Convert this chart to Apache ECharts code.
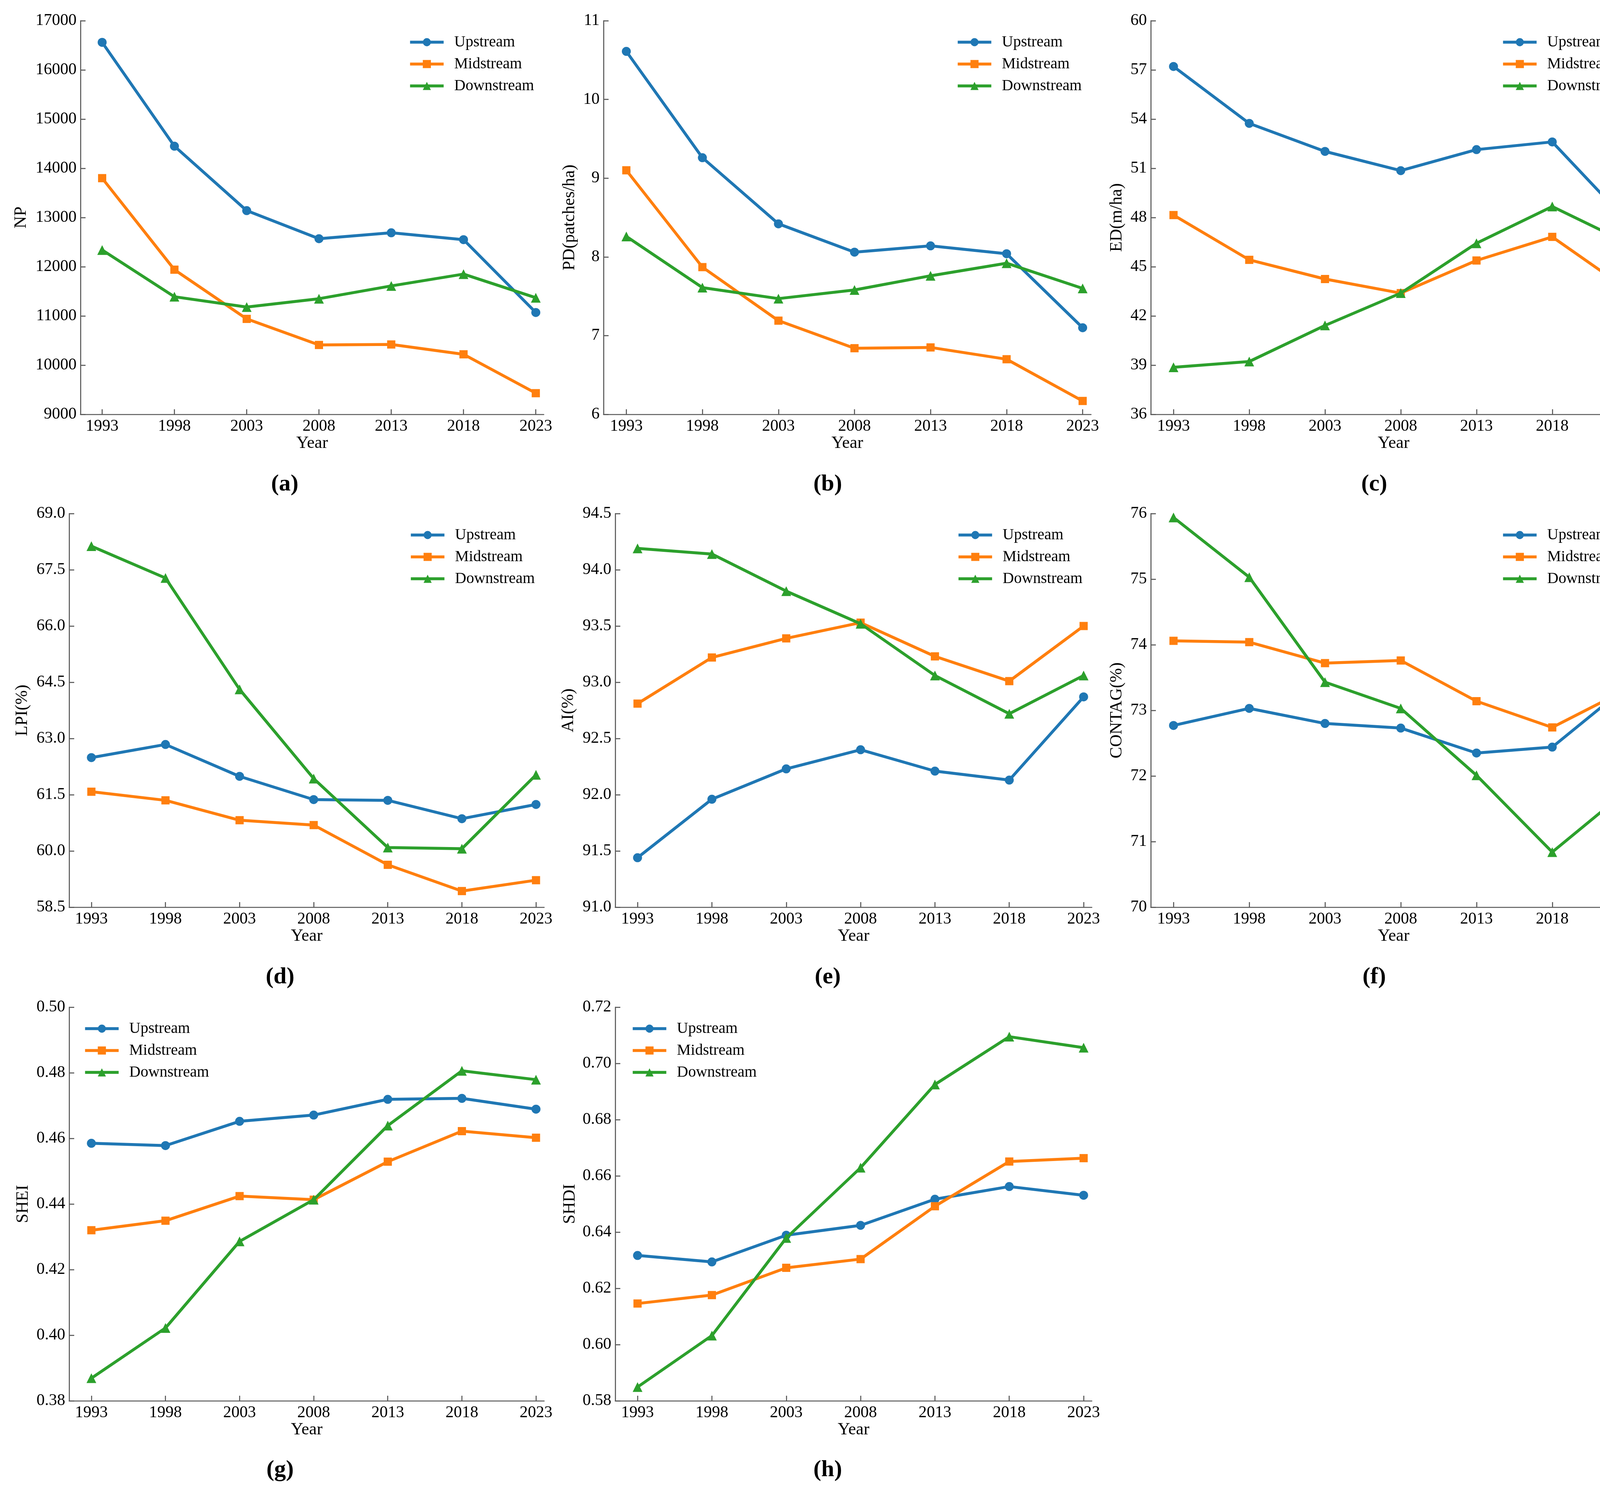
<!DOCTYPE html>
<html>
<head>
<meta charset="utf-8">
<title>Landscape metrics</title>
<script src="https://cdn.jsdelivr.net/npm/echarts@6/dist/echarts.min.js"></script>
<style>
html, body { margin: 0; padding: 0; background: #fff; }
#main { width: 4228px; height: 3841px; }
</style>
</head>
<body>
<div id="main"></div>
<script>
var years = [1993, 1998, 2003, 2008, 2013, 2018, 2023];
var seriesNames = ['Upstream', 'Midstream', 'Downstream'];

var npUp = [16560, 14450, 13140, 12570, 12690, 12550, 11070];
var npMid = [13800, 11940, 10940, 10410, 10420, 10220, 9430];
var npDown = [12340, 11390, 11180, 11350, 11610, 11850, 11370];

var pdUp = [10.61, 9.26, 8.42, 8.06, 8.14, 8.04, 7.10];
var pdMid = [9.10, 7.87, 7.19, 6.84, 6.85, 6.70, 6.17];
var pdDown = [8.26, 7.61, 7.47, 7.58, 7.76, 7.92, 7.60];

var edUp = [57.21, 53.74, 52.03, 50.86, 52.14, 52.61, 47.72];
var edMid = [48.15, 45.42, 44.25, 43.39, 45.38, 46.82, 43.59];
var edDown = [38.87, 39.22, 41.42, 43.39, 46.43, 48.67, 46.43];

var lpiUp = [62.49, 62.84, 61.99, 61.37, 61.35, 60.86, 61.24];
var lpiMid = [61.58, 61.35, 60.82, 60.69, 59.63, 58.93, 59.22];
var lpiDown = [68.13, 67.28, 64.31, 61.93, 60.09, 60.06, 62.03];

var aiUp = [91.44, 91.96, 92.23, 92.40, 92.21, 92.13, 92.87];
var aiMid = [92.81, 93.22, 93.39, 93.53, 93.23, 93.01, 93.50];
var aiDown = [94.19, 94.14, 93.81, 93.52, 93.06, 92.72, 93.06];

var contagUp = [72.77, 73.03, 72.80, 72.73, 72.35, 72.44, 73.38];
var contagMid = [74.06, 74.04, 73.72, 73.76, 73.14, 72.74, 73.33];
var contagDown = [75.94, 75.03, 73.43, 73.03, 72.01, 70.84, 71.79];

var sheiUp = [0.4585, 0.4578, 0.4652, 0.4671, 0.4719, 0.4722, 0.4689];
var sheiMid = [0.4320, 0.4349, 0.4424, 0.4413, 0.4529, 0.4622, 0.4602];
var sheiDown = [0.3869, 0.4022, 0.4286, 0.4413, 0.4639, 0.4806, 0.4779];

var shdiUp = [0.6317, 0.6294, 0.6389, 0.6424, 0.6517, 0.6562, 0.6531];
var shdiMid = [0.6146, 0.6176, 0.6273, 0.6304, 0.6492, 0.6651, 0.6663];
var shdiDown = [0.5849, 0.6032, 0.6379, 0.6629, 0.6925, 0.7095, 0.7056];

var panelLabels = ['(a)', '(b)', '(c)', '(d)', '(e)', '(f)', '(g)', '(h)'];
var yNames = ['NP', 'PD(patches/ha)', 'ED(m/ha)', 'LPI(%)', 'AI(%)', 'CONTAG(%)', 'SHEI', 'SHDI'];

var FONT = 'Liberation Serif';
var colors = ['#1f77b4', '#ff7f0e', '#2ca02c'];
var symbols = ['circle', 'rect', 'triangle'];
var symbolSizes = [23, 21, 25];

// one entry per sub-plot: values + axis range + where it sits on the page
var panels = [
	{data: [npUp, npMid, npDown], min: 9000, max: 17000, step: 1000, dec: 0,
	 left: 206, width: 1186, top: 53, gap: 130, legX: 1041, lab: [729, 1240]},
	{data: [pdUp, pdMid, pdDown], min: 6, max: 11, step: 1, dec: 0,
	 left: 1545, width: 1248, top: 53, gap: 65, legX: 2443, lab: [2119, 1240]},
	{data: [edUp, edMid, edDown], min: 36, max: 60, step: 3, dec: 0,
	 left: 2946, width: 1243, top: 53, gap: 65, legX: 3839, lab: [3518, 1240]},
	{data: [lpiUp, lpiMid, lpiDown], min: 58.5, max: 69, step: 1.5, dec: 1,
	 left: 177, width: 1216, top: 1315, gap: 98, legX: 1043, lab: [717, 2502]},
	{data: [aiUp, aiMid, aiDown], min: 91, max: 94.5, step: 0.5, dec: 1,
	 left: 1575, width: 1220, top: 1315, gap: 98, legX: 2445, lab: [2119, 2502]},
	{data: [contagUp, contagMid, contagDown], min: 70, max: 76, step: 1, dec: 0,
	 left: 2946, width: 1243, top: 1315, gap: 65, legX: 3839, lab: [3518, 2502]},
	{data: [sheiUp, sheiMid, sheiDown], min: 0.38, max: 0.50, step: 0.02, dec: 2,
	 left: 177, width: 1216, top: 2579, gap: 96, legX: 209, lab: [717, 3764]},
	{data: [shdiUp, shdiMid, shdiDown], min: 0.58, max: 0.72, step: 0.02, dec: 2,
	 left: 1575, width: 1220, top: 2579, gap: 94, legX: 1611, lab: [2119, 3764]}
];

var PLOT_H = 1008;
var axisColor = '#5a5a5a';

function buildOption() {
	var grid = [], xAxis = [], yAxis = [], series = [], legend = [], graphic = [];

	$each(panels, function(p, i) {
		grid.push({left: p.left, top: p.top, width: p.width, height: PLOT_H, outerBoundsMode: 'none'});

		xAxis.push({
			type: 'value', gridIndex: i, min: 1991.5, max: 2023.55,
			name: 'Year', nameLocation: 'middle', nameGap: 48,
			nameTextStyle: {fontFamily: FONT, fontSize: 44, color: '#000'},
			axisLine: {show: true, lineStyle: {color: axisColor, width: 2.7}},
			axisTick: {show: true, inside: true, length: 13, customValues: years,
				lineStyle: {color: axisColor, width: 2.7}},
			axisLabel: {customValues: years, margin: 10, fontFamily: FONT, fontSize: 42, color: '#000',
				formatter: function(v) { return String(v); }},
			splitLine: {show: false}
		});

		yAxis.push({
			type: 'value', gridIndex: i, min: p.min, max: p.max, interval: p.step,
			name: yNames[i], nameLocation: 'middle', nameGap: p.gap, nameRotate: 90,
			nameTextStyle: {fontFamily: FONT, fontSize: 44, color: '#000'},
			axisLine: {show: true, lineStyle: {color: axisColor, width: 2.7}},
			axisTick: {show: true, inside: true, length: 13, lineStyle: {color: axisColor, width: 2.7}},
			axisLabel: {margin: 10, fontFamily: FONT, fontSize: 42, color: '#000',
				formatter: function(v) { return v.toFixed(p.dec); }},
			splitLine: {show: false}
		});

		for (var k = 0; k < 3; k++) {
			var pts = [];
			for (var j = 0; j < years.length; j++) {
				pts.push([years[j], p.data[k][j]]);
			}
			series.push({
				name: seriesNames[k], type: 'line', xAxisIndex: i, yAxisIndex: i,
				data: pts, symbol: symbols[k], symbolSize: symbolSizes[k],
				color: colors[k],
				lineStyle: {color: colors[k], width: 7.5},
				itemStyle: {color: colors[k]},
				animation: false, z: 2 + k
			});
		}

		legend.push({
			orient: 'vertical', left: p.legX, top: p.top + 28,
			data: seriesNames, itemWidth: 86, itemHeight: 26, itemGap: 12,
			lineStyle: {width: 7.5},
			textStyle: {fontFamily: FONT, fontSize: 40, color: '#000', lineHeight: 44, padding: [0, 0, 0, 22]},
			selectedMode: false
		});

		graphic.push({
			type: 'text', x: p.lab[0], y: p.lab[1],
			style: {text: panelLabels[i], fontFamily: FONT, fontSize: 60, fontWeight: 'bold',
				fill: '#000', textAlign: 'center', textVerticalAlign: 'middle'}
		});
	});

	return {
		backgroundColor: '#fff',
		animation: false,
		grid: grid, xAxis: xAxis, yAxis: yAxis,
		legend: legend, series: series, graphic: graphic
	};
}

function $each(arr, fn) {
	for (var i = 0; i < arr.length; i++) fn(arr[i], i);
}

var myChart = echarts.init(document.getElementById('main'));
myChart.setOption(buildOption());
</script>
</body>
</html>
